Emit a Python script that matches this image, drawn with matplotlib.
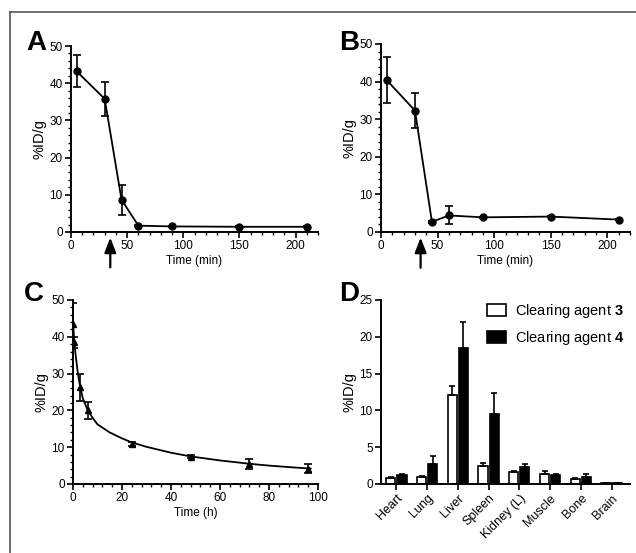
import numpy as np
import matplotlib
matplotlib.use("Agg")
import matplotlib.pyplot as plt
from matplotlib.lines import Line2D
from matplotlib.ticker import MultipleLocator

plt.rcParams['font.family'] = ['Liberation Sans', 'DejaVu Sans']
plt.rcParams['mathtext.fontset'] = 'custom'
plt.rcParams['mathtext.rm'] = 'Liberation Sans'
plt.rcParams['mathtext.bf'] = 'Liberation Sans:bold'

# panel A
t_a = [5, 30, 45, 60, 90, 150, 210]
y_a = [43.2, 35.8, 8.7, 1.7, 1.5, 1.4, 1.4]
e_a = [4.3, 4.6, 4.0, 0.2, 0.1, 0.1, 0.1]

# panel B
t_b = [5, 30, 45, 60, 90, 150, 210]
y_b = [40.4, 32.3, 2.7, 4.4, 3.9, 4.1, 3.3]
e_b = [6.1, 4.6, 0.2, 2.4, 0.2, 0.2, 0.2]

# panel C
t_c = [0.083, 0.5, 3, 6, 24, 48, 72, 96]
y_c = [43.5, 38.5, 26.3, 20.0, 10.9, 7.4, 5.5, 4.2]
e_c = [5.8, 1.5, 3.7, 2.3, 0.5, 0.4, 1.3, 1.1]
fit_t = [0, 0.5, 1, 2, 3, 4, 6, 8, 10, 15, 20, 24, 30, 40, 48, 60, 72, 80, 90, 97]
fit_y = [44.0, 39.0, 35.5, 30.0, 26.2, 23.3, 20.0, 18.0, 16.2, 14.0, 12.4, 11.3, 10.1, 8.5, 7.5, 6.4, 5.5, 5.0, 4.5, 4.2]

# panel D
organs = ["Heart", "Lung", "Liver", "Spleen", "Kidney (L)", "Muscle", "Bone", "Brain"]
ca3 = [0.8, 1.0, 12.1, 2.4, 1.6, 1.4, 0.7, 0.1]
ca3_err = [0.1, 0.1, 1.2, 0.5, 0.2, 0.3, 0.1, 0.02]
ca4 = [1.2, 2.7, 18.5, 9.5, 2.3, 1.2, 1.0, 0.1]
ca4_err = [0.1, 1.1, 3.5, 2.8, 0.4, 0.2, 0.4, 0.02]

W, H = 636, 553
fig = plt.figure(figsize=(W / 100, H / 100), dpi=100)

def px_axes(l, r, top, bot):
    return fig.add_axes([l / W, 1 - bot / H, (r - l) / W, (bot - top) / H])

def style(ax):
    for s in ["top", "right"]:
        ax.spines[s].set_visible(False)
    for s in ["left", "bottom"]:
        ax.spines[s].set_linewidth(1.4)
    ax.tick_params(which="major", direction="out", length=4.5, width=1.2, labelsize=8.5, pad=1.5)
    ax.tick_params(which="minor", direction="out", length=2.5, width=1.0)
    ax.set_ylabel("%ID/g", fontsize=10.5, labelpad=2)

def arrow(ax):
    ax.annotate("", xy=(35, -0.015), xytext=(35, -0.205), xycoords=("data", "axes fraction"),
                arrowprops=dict(arrowstyle="-|>,head_width=0.35,head_length=0.9",
                                color="black", lw=1.6),
                annotation_clip=False)

# A
axA = px_axes(71, 318, 46, 232)
axA.errorbar(t_a, y_a, yerr=e_a, color="black", marker="o", ms=5, lw=1.3,
             capsize=3, elinewidth=1.2, capthick=1.2)
axA.set_xlim(0, 220)
axA.set_ylim(0, 50)
axA.xaxis.set_major_locator(MultipleLocator(50))
axA.xaxis.set_minor_locator(MultipleLocator(10))
axA.yaxis.set_major_locator(MultipleLocator(10))
axA.yaxis.set_minor_locator(MultipleLocator(2))
axA.set_xlabel("Time (min)", fontsize=8.5, labelpad=2)
style(axA)
arrow(axA)

# B
axB = px_axes(381, 630, 44, 232)
axB.errorbar(t_b, y_b, yerr=e_b, color="black", marker="o", ms=5, lw=1.3,
             capsize=3, elinewidth=1.2, capthick=1.2)
axB.set_xlim(0, 220)
axB.set_ylim(0, 50)
axB.xaxis.set_major_locator(MultipleLocator(50))
axB.xaxis.set_minor_locator(MultipleLocator(10))
axB.yaxis.set_major_locator(MultipleLocator(10))
axB.yaxis.set_minor_locator(MultipleLocator(2))
axB.set_xlabel("Time (min)", fontsize=8.5, labelpad=2)
style(axB)
arrow(axB)

# C
axC = px_axes(73, 318, 300, 484)
axC.plot(fit_t, fit_y, color="black", lw=1.3)
axC.errorbar(t_c, y_c, yerr=e_c, color="black", marker="^", ms=5, lw=0,
             elinewidth=1.2, capsize=3, capthick=1.2)
axC.set_xlim(0, 100)
axC.set_ylim(0, 50)
axC.xaxis.set_major_locator(MultipleLocator(20))
axC.xaxis.set_minor_locator(MultipleLocator(4))
axC.yaxis.set_major_locator(MultipleLocator(10))
axC.yaxis.set_minor_locator(MultipleLocator(2))
axC.set_xlabel("Time (h)", fontsize=8.5, labelpad=2)
style(axC)

# D
axD = px_axes(381, 630, 300, 484)
x = np.arange(len(organs))
bw = 0.3
axD.bar(x - 0.18, ca3, bw, color="white", edgecolor="black", lw=1.2,
        yerr=[np.zeros(len(ca3)), ca3_err], capsize=2.5,
        error_kw=dict(elinewidth=1.2, capthick=1.2), label=r"Clearing agent $\mathbf{3}$")
axD.bar(x + 0.18, ca4, bw, color="black", edgecolor="black", lw=1.2,
        yerr=[np.zeros(len(ca4)), ca4_err], capsize=2.5,
        error_kw=dict(elinewidth=1.2, capthick=1.2), label=r"Clearing agent $\mathbf{4}$")
axD.set_xlim(-0.5, 7.6)
axD.set_ylim(0, 25)
axD.yaxis.set_major_locator(MultipleLocator(5))
axD.set_xticks(x)
axD.set_xticklabels(organs, rotation=45, ha="right", rotation_mode="anchor", fontsize=9)
style(axD)
axD.tick_params(axis="x", labelsize=9)
axD.legend(loc="upper right", bbox_to_anchor=(1.03, 1.06), frameon=False, fontsize=10.5,
           handlelength=1.3, handleheight=0.9, labelspacing=0.6, handletextpad=0.6)

# panel letters
for lbl, xp, yp in [("A", 26, 50), ("B", 339, 50), ("C", 24, 301), ("D", 339, 301)]:
    fig.text(xp / W, 1 - yp / H, lbl, fontsize=20, fontweight="bold", ha="left", va="baseline")

# outer frame (top and left edges)
fig.add_artist(Line2D([10 / W, 1.0], [1 - 12 / H, 1 - 12 / H], color="#555555", lw=1.2))
fig.add_artist(Line2D([10 / W, 10 / W], [0, 1 - 12 / H], color="#555555", lw=1.2))

fig.savefig("out.png", dpi=100)
